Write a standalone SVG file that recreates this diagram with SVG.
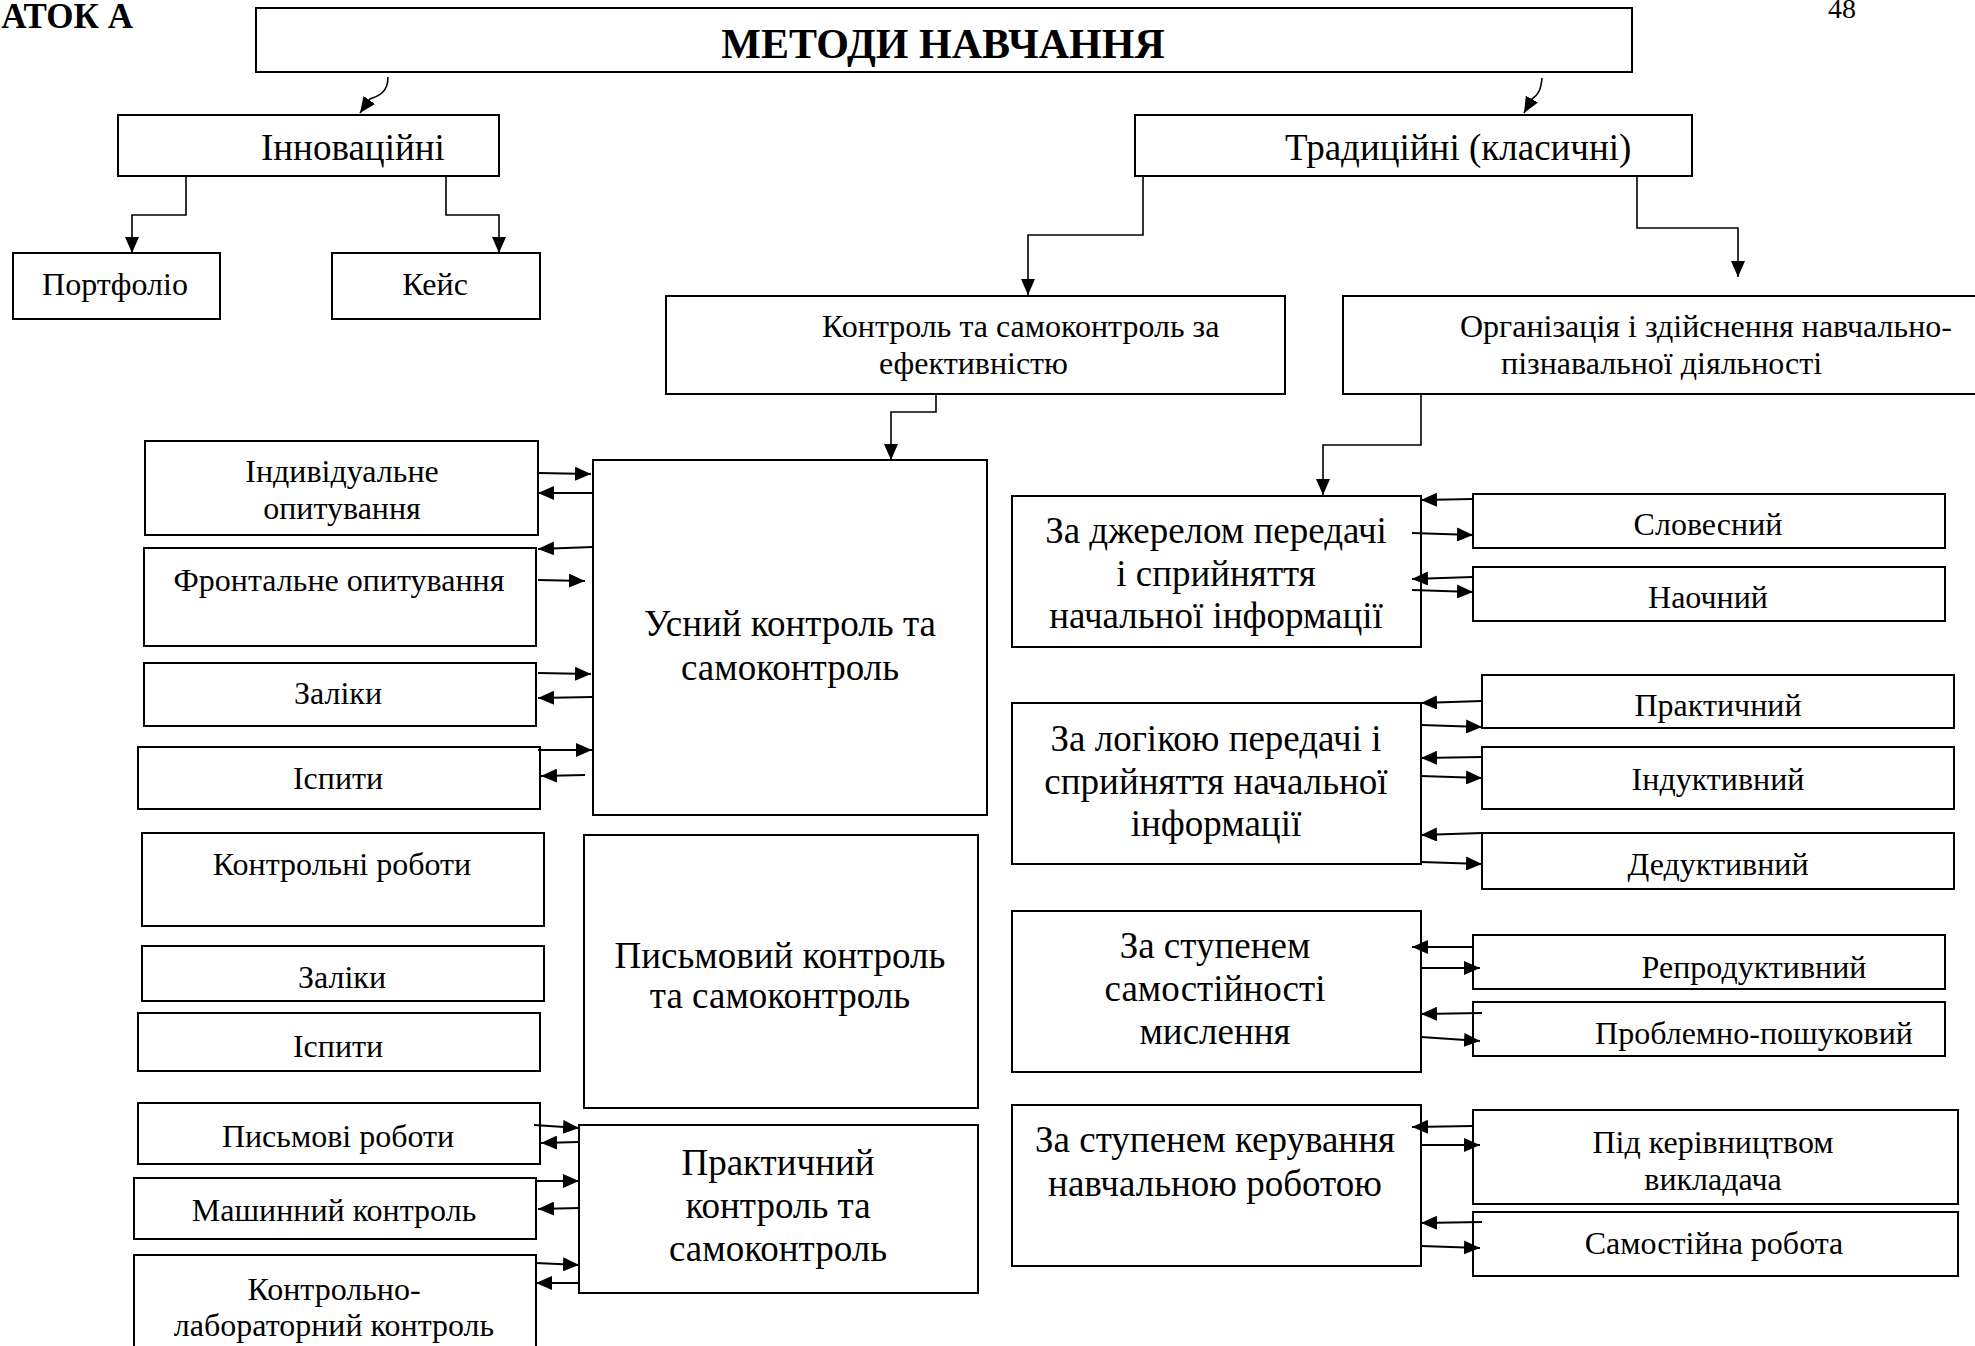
<svg xmlns="http://www.w3.org/2000/svg" width="1975" height="1346" viewBox="0 0 1975 1346">
<style>
.box{fill:#fff;stroke:#000;stroke-width:2}
text{font-family:"Liberation Serif","Times New Roman",serif;fill:#000}
.s{font-size:32px}
.l{font-size:37px}
.m{text-anchor:middle}
.c{stroke:#000;stroke-width:2;fill:none;marker-end:url(#ah)}
.ct{stroke:#000;stroke-width:1.6;fill:none;marker-end:url(#ah)}
</style>
<defs>
<marker id="ah" viewBox="0 0 16 14" refX="16" refY="7" markerWidth="16" markerHeight="14" markerUnits="userSpaceOnUse" orient="auto"><path d="M0,0 L16,7 L0,14 z" fill="#000"/></marker>
</defs>
<rect width="1975" height="1346" fill="#fff"/>
<text x="133" y="28" style="font-size:35px;font-weight:bold;text-anchor:end">АТОК А</text>
<text x="1842" y="18" class="m" style="font-size:28px">48</text>

<g id="title"><rect class="box" x="256" y="8" width="1376" height="64"/><text x="943" y="58" class="m" style="font-size:42px;font-weight:bold">МЕТОДИ НАВЧАННЯ</text></g>

<g id="innov"><rect class="box" x="118" y="115" width="381" height="61"/><text x="261" y="160" class="l">Інноваційні</text></g>
<g id="portfolio"><rect class="box" x="13" y="253" width="207" height="66"/><text x="115" y="295" class="s m">Портфоліо</text></g>
<g id="case"><rect class="box" x="332" y="253" width="208" height="66"/><text x="435" y="295" class="s m">Кейс</text></g>

<g id="trad"><rect class="box" x="1135" y="115" width="557" height="61"/><text x="1285" y="160" class="l">Традиційні (класичні)</text></g>
<g id="control"><rect class="box" x="666" y="296" width="619" height="98"/><text x="822" y="337" class="s">Контроль та самоконтроль за</text><text x="879" y="374" class="s">ефективністю</text></g>
<g id="org"><rect class="box" x="1343" y="296" width="650" height="98"/><text x="1460" y="337" class="s">Організація і здійснення навчально-</text><text x="1501" y="374" class="s">пізнавальної діяльності</text></g>

<g id="oral"><rect class="box" x="593" y="460" width="394" height="355"/><text x="790" y="636" class="l m">Усний контроль та</text><text x="790" y="680" class="l m">самоконтроль</text></g>
<g id="indiv"><rect class="box" x="145" y="441" width="393" height="94"/><text x="342" y="482" class="s m">Індивідуальне</text><text x="342" y="519" class="s m">опитування</text></g>
<g id="front"><rect class="box" x="144" y="548" width="392" height="98"/><text x="339" y="591" class="s m">Фронтальне опитування</text></g>
<g id="zaliky1"><rect class="box" x="144" y="663" width="392" height="63"/><text x="338" y="704" class="s m">Заліки</text></g>
<g id="ispyty1"><rect class="box" x="138" y="747" width="402" height="62"/><text x="338" y="789" class="s m">Іспити</text></g>

<g id="kr"><rect class="box" x="142" y="833" width="402" height="93"/><text x="342" y="875" class="s m">Контрольні роботи</text></g>
<g id="zaliky2"><rect class="box" x="142" y="946" width="402" height="55"/><text x="342" y="988" class="s m">Заліки</text></g>
<g id="ispyty2"><rect class="box" x="138" y="1013" width="402" height="58"/><text x="338" y="1057" class="s m">Іспити</text></g>
<g id="written"><rect class="box" x="584" y="835" width="394" height="273"/><text x="780" y="968" class="l m">Письмовий контроль</text><text x="780" y="1008" class="l m">та самоконтроль</text></g>

<g id="pr"><rect class="box" x="138" y="1103" width="402" height="61"/><text x="338" y="1147" class="s m">Письмові роботи</text></g>
<g id="mach"><rect class="box" x="134" y="1178" width="402" height="61"/><text x="334" y="1221" class="s m">Машинний контроль</text></g>
<g id="lab"><rect class="box" x="134" y="1255" width="402" height="100"/><text x="334" y="1300" class="s m">Контрольно-</text><text x="334" y="1336" class="s m">лабораторний контроль</text></g>
<g id="practical"><rect class="box" x="579" y="1125" width="399" height="168"/><text x="778" y="1175" class="l m">Практичний</text><text x="778" y="1218" class="l m">контроль та</text><text x="778" y="1261" class="l m">самоконтроль</text></g>

<g id="source"><rect class="box" x="1012" y="496" width="409" height="151"/><text x="1216" y="543" class="l m">За джерелом передачі</text><text x="1216" y="586" class="l m">і сприйняття</text><text x="1216" y="628" class="l m">начальної інформації</text></g>
<g id="verbal"><rect class="box" x="1473" y="494" width="472" height="54"/><text x="1708" y="535" class="s m">Словесний</text></g>
<g id="visual"><rect class="box" x="1473" y="567" width="472" height="54"/><text x="1708" y="608" class="s m">Наочний</text></g>

<g id="logic"><rect class="box" x="1012" y="703" width="409" height="161"/><text x="1216" y="751" class="l m">За логікою передачі і</text><text x="1216" y="794" class="l m">сприйняття начальної</text><text x="1216" y="836" class="l m">інформації</text></g>
<g id="practical2"><rect class="box" x="1482" y="675" width="472" height="53"/><text x="1718" y="716" class="s m">Практичний</text></g>
<g id="induct"><rect class="box" x="1482" y="747" width="472" height="62"/><text x="1718" y="790" class="s m">Індуктивний</text></g>
<g id="deduct"><rect class="box" x="1482" y="833" width="472" height="56"/><text x="1718" y="875" class="s m">Дедуктивний</text></g>

<g id="indep"><rect class="box" x="1012" y="911" width="409" height="161"/><text x="1215" y="958" class="l m">За ступенем</text><text x="1215" y="1001" class="l m">самостійності</text><text x="1215" y="1044" class="l m">мислення</text></g>
<g id="repro"><rect class="box" x="1473" y="935" width="472" height="54"/><text x="1754" y="978" class="s m">Репродуктивний</text></g>
<g id="problem"><rect class="box" x="1473" y="1002" width="472" height="54"/><text x="1754" y="1044" class="s m">Проблемно-пошуковий</text></g>

<g id="manage"><rect class="box" x="1012" y="1105" width="409" height="161"/><text x="1215" y="1152" class="l m">За ступенем керування</text><text x="1215" y="1196" class="l m">навчальною роботою</text></g>
<g id="teacher"><rect class="box" x="1473" y="1110" width="485" height="94"/><text x="1713" y="1153" class="s m">Під керівництвом</text><text x="1713" y="1190" class="s m">викладача</text></g>
<g id="selfwork"><rect class="box" x="1473" y="1212" width="485" height="64"/><text x="1714" y="1254" class="s m">Самостійна робота</text></g>

<g id="connectors">
<path class="ct" d="M388,77 C388,93 378,96 370,99 L360,113"/>
<path class="ct" d="M1542,78 C1541,90 1538,95 1532,99 L1524,113"/>
<path class="ct" d="M186,177 V215 H132 V253"/>
<path class="ct" d="M446,177 V215 H499 V253"/>
<path class="ct" d="M1143,177 V235 H1028 V295"/>
<path class="ct" d="M1637,177 V228 H1738 V277"/>
<path class="ct" d="M936,394 V412 H891 V460"/>
<path class="ct" d="M1421,394 V445 H1323 V495"/>

<path class="c" d="M539,473 L591,474"/>
<path class="c" d="M593,493 L538,493"/>
<path class="c" d="M593,547 L538,549"/>
<path class="c" d="M538,580 L585,581"/>
<path class="c" d="M538,673 L591,674"/>
<path class="c" d="M593,697 L538,698"/>
<path class="c" d="M538,750 L592,750"/>
<path class="c" d="M585,775 L541,776"/>

<path class="c" d="M534,1125 L579,1128"/>
<path class="c" d="M579,1142 L541,1143"/>
<path class="c" d="M536,1181 L579,1181"/>
<path class="c" d="M579,1208 L538,1209"/>
<path class="c" d="M536,1263 L579,1265"/>
<path class="c" d="M579,1283 L536,1283"/>

<path class="c" d="M1473,499 L1421,500"/>
<path class="c" d="M1412,533 L1473,535"/>
<path class="c" d="M1473,577 L1412,579"/>
<path class="c" d="M1412,590 L1473,592"/>

<path class="c" d="M1482,701 L1421,703"/>
<path class="c" d="M1421,725 L1482,727"/>
<path class="c" d="M1482,757 L1421,758"/>
<path class="c" d="M1421,776 L1482,778"/>
<path class="c" d="M1482,833 L1421,835"/>
<path class="c" d="M1421,862 L1482,864"/>

<path class="c" d="M1473,947 L1412,947"/>
<path class="c" d="M1421,968 L1480,968"/>
<path class="c" d="M1482,1013 L1421,1014"/>
<path class="c" d="M1421,1037 L1480,1041"/>

<path class="c" d="M1473,1126 L1412,1127"/>
<path class="c" d="M1421,1145 L1480,1145"/>
<path class="c" d="M1482,1222 L1421,1223"/>
<path class="c" d="M1421,1246 L1480,1248"/>
</g>
</svg>
